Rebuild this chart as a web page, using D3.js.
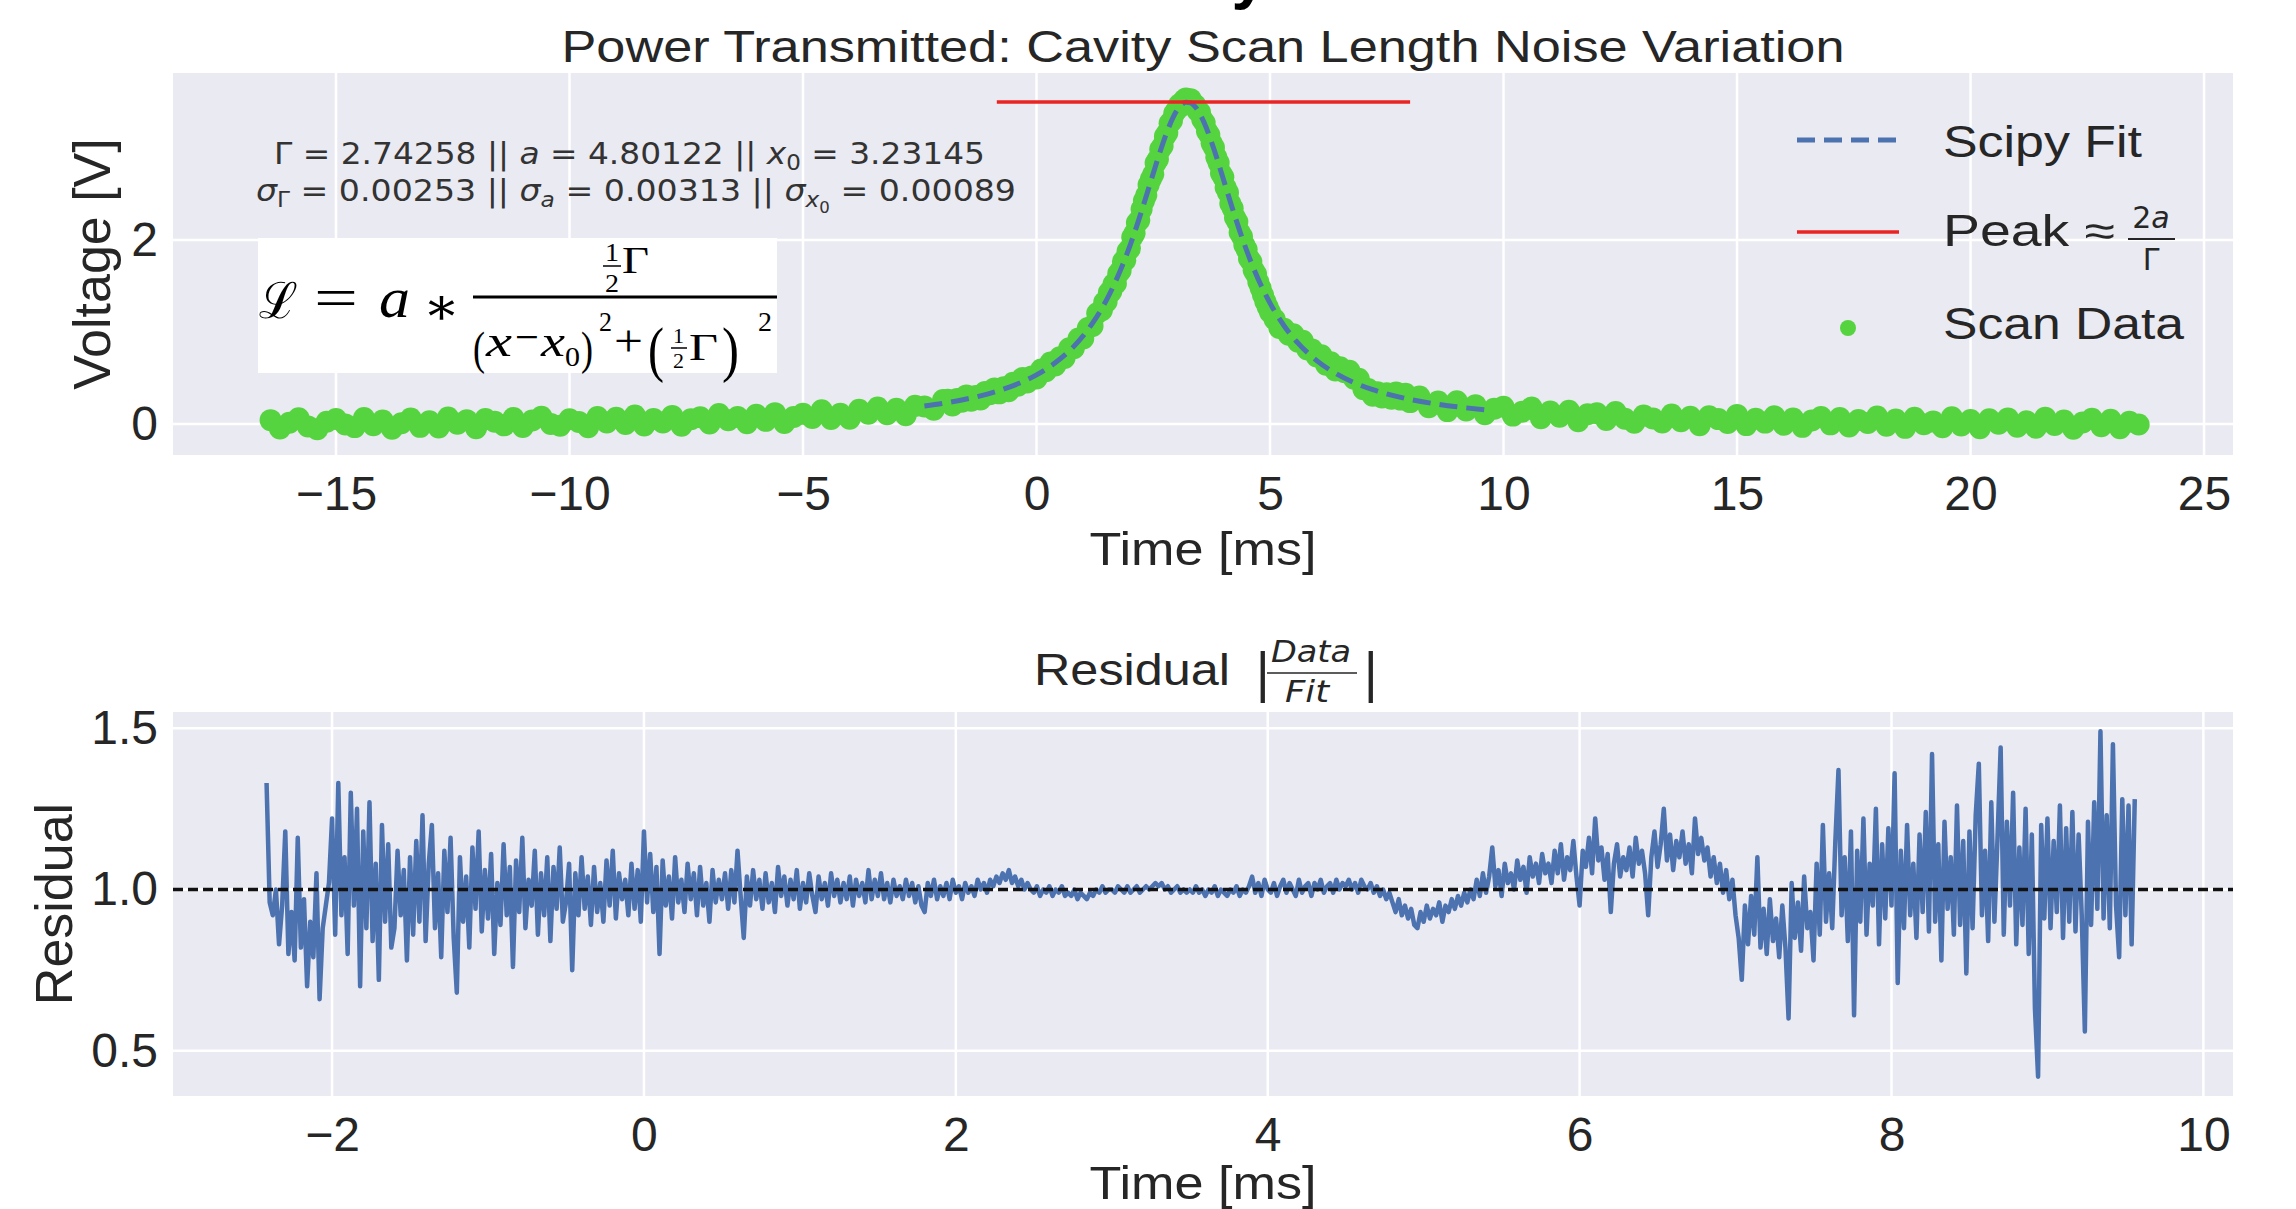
<!DOCTYPE html>
<html>
<head>
<meta charset="utf-8">
<script src="https://cdn.jsdelivr.net/npm/d3@7"></script>
<style>
  body { margin: 0; background: #fff; }
  svg { display: block; }
</style>
</head>
<body>
<script>
// ---- data ----

// scan data (ms, V): tails sampled coarser, the peak finer
const scanTime = [
  -16.4,-16.2,-16.0,-15.8,-15.6,-15.4,-15.2,-15.0,-14.8,-14.6,-14.4,-14.2,-14.0,-13.8,-13.6,-13.4,-13.2,-13.0,-12.8,-12.6,
  -12.4,-12.2,-12.0,-11.8,-11.6,-11.4,-11.2,-11.0,-10.8,-10.6,-10.4,-10.2,-10.0,-9.8,-9.6,-9.4,-9.2,-9.0,-8.8,-8.6,
  -8.4,-8.2,-8.0,-7.8,-7.6,-7.4,-7.2,-7.0,-6.8,-6.6,-6.4,-6.2,-6.0,-5.8,-5.6,-5.4,-5.2,-5.0,-4.8,-4.6,
  -4.4,-4.2,-4.0,-3.8,-3.6,-3.4,-3.2,-3.0,-2.8,-2.6,-2.4,-2.2,-2.0,
  -1.9,-1.8,-1.7,-1.6,-1.5,-1.4,-1.3,-1.2,-1.1,-1.0,-0.9,-0.8,-0.7,-0.6,-0.5,-0.4,-0.3,-0.2,-0.1,0.0,
  0.1,0.2,0.3,0.4,0.5,0.6,0.7,0.8,0.9,1.0,1.1,1.2,1.3,1.4,
  1.45,1.50,1.55,1.60,1.65,1.70,1.75,1.80,1.85,1.90,1.95,2.00,2.05,2.10,2.15,2.20,2.25,2.30,2.35,2.40,
  2.45,2.50,2.55,2.60,2.65,2.70,2.75,2.80,2.85,2.90,2.95,3.00,3.05,3.10,3.15,3.20,3.25,3.30,3.35,3.40,
  3.45,3.50,3.55,3.60,3.65,3.70,3.75,3.80,3.85,3.90,3.95,4.00,4.05,4.10,4.15,4.20,4.25,4.30,4.35,4.40,
  4.45,4.50,4.55,4.60,4.65,4.70,4.75,4.80,4.85,4.90,4.95,5.00,
  5.1,5.2,5.3,5.4,5.5,5.6,5.7,5.8,5.9,6.0,6.1,6.2,6.3,6.4,6.5,6.6,6.7,6.8,6.9,7.0,
  7.1,7.2,7.3,7.4,7.5,7.6,7.7,7.8,7.9,8.0,
  8.2,8.4,8.6,8.8,9.0,9.2,9.4,9.6,9.8,10.0,10.2,10.4,10.6,10.8,11.0,11.2,11.4,11.6,11.8,12.0,
  12.2,12.4,12.6,12.8,13.0,13.2,13.4,13.6,13.8,14.0,14.2,14.4,14.6,14.8,15.0,15.2,15.4,15.6,15.8,16.0,
  16.2,16.4,16.6,16.8,17.0,17.2,17.4,17.6,17.8,18.0,18.2,18.4,18.6,18.8,19.0,19.2,19.4,19.6,19.8,20.0,
  20.2,20.4,20.6,20.8,21.0,21.2,21.4,21.6,21.8,22.0,22.2,22.4,22.6,22.8,23.0,23.2,23.4,23.6
];
const scanVolt = [
  .042,-.048,.013,.063,-.026,-.056,.025,.055,-.005,-.034,.066,-.014,.037,-.052,.008,.059,-.031,.030,-.039,.071,
  .002,.042,-.047,.054,.025,-.015,.066,-.033,.038,.079,.000,-.019,.052,.023,-.036,.075,.017,.068,.000,.091,
  -.017,.054,.016,.088,-.020,.052,.074,.006,.109,.042,.075,.008,.101,.034,.118,.011,.075,.110,.065,.150,
  .055,.111,.057,.154,.111,.179,.107,.166,.096,.197,.190,.154,.260,
  .263,.202,.271,.241,.311,.252,.304,.266,.349,.323,.387,.333,.400,.357,.447,.417,.499,.452,.517,.494,
  .593,.574,.668,.635,.725,.717,.824,.824,.929,.929,1.044,1.066,1.203,1.237,
  1.322,1.329,1.428,1.439,1.522,1.527,1.635,1.665,1.767,1.781,1.878,1.907,2.029,2.072,2.188,2.215,2.334,2.425,2.487,2.599,
  2.662,2.714,2.836,2.877,2.986,3.022,3.126,3.164,3.268,3.297,3.377,3.413,3.470,3.457,3.517,3.538,3.518,3.531,3.484,3.467,
  3.403,3.389,3.310,3.274,3.181,3.144,3.052,3.006,2.898,2.838,2.725,2.683,2.571,2.517,2.396,2.345,2.245,2.198,2.082,2.037,
  1.946,1.896,1.798,1.763,1.670,1.630,1.542,1.476,1.402,1.331,1.271,1.214,
  1.137,1.043,1.035,.970,.976,.894,.905,.810,.810,.734,.746,.645,.671,.582,.617,.562,.579,.493,.492,.379,
  .380,.308,.344,.288,.334,.275,.341,.265,.329,.238,
  .298,.181,.244,.140,.247,.146,.205,.105,.166,.188,.091,.134,.178,.062,.136,.080,.145,.030,.106,.116,
  .043,.130,.057,.014,.091,.059,.016,.104,.031,.079,-.013,.085,.053,.011,.099,-.012,.056,.015,.083,-.008,
  .060,-.031,.038,.077,-.004,.065,-.026,.043,.012,.081,-.020,.049,-.042,.067,-.003,.026,-.035,.074,-.016,.043,
  -.047,.052,.002,.061,-.029,.030,-.040,.069,-.011,.038,-.052,.017,.057,-.024,.046,-.045,.025,-.006
];

// scipy fit curve
const fitTime = [-2.4,-2.0,-1.6,-1.2,-0.8,-0.4,0,0.4,0.8,1.2,1.5,1.8,2.0,2.2,2.4,2.6,2.8,3.0,3.1,3.2,3.3,
  3.4,3.5,3.6,3.8,4.0,4.2,4.4,4.6,4.8,5.0,5.3,5.6,6.0,6.4,6.8,7.2,7.6,8.0,8.5,9.0,9.6];
const fitVolt = [.196,.225,.261,.306,.363,.437,.534,.665,.844,1.096,1.349,1.675,1.937,2.235,2.559,2.887,3.184,3.403,3.467,3.498,3.491,
  3.447,3.369,3.264,2.986,2.663,2.335,2.027,1.753,1.516,1.314,1.068,.879,.689,.552,.450,.373,.314,.267,.222,.187,.155];

// peak marker 2a/Γ
const peakTime = [-0.85, 8.0];
const peakLevel = 3.501;

// residual Data/Fit, sampled every resStep ms from resStart
const resStart = -2.42, resStep = 0.02;
const residual = [
  1.33,.96,.92,1.0,.83,.95,1.18,.80,.93,.78,1.16,.82,.97,.70,.90,.79,1.05,.66,.88,.95,1.02,
  1.22,.86,1.33,.92,1.10,.80,1.30,.95,1.25,.70,1.18,.88,1.27,.84,1.08,.72,1.20,.90,1.14,.82,
  .88,1.12,.92,1.06,.78,1.10,.86,1.15,.90,1.23,.84,1.08,1.20,.88,1.05,.79,1.12,.93,1.16,.85,
  .68,1.10,.90,1.04,.82,1.13,.94,1.18,.87,1.06,.91,1.11,.80,1.02,.89,1.14,.92,1.07,.76,1.09,
  .93,1.16,.88,1.03,.95,1.12,.86,1.05,.92,1.10,.84,1.07,.94,1.13,.90,
  .96,1.08,.75,1.05,.92,1.10,.94,1.04,.89,1.07,.93,1.02,.90,1.09,.95,1.12,.91,1.05,.97,1.03,
  .92,1.08,.94,1.06,.90,1.18,.96,1.11,.93,1.07,.80,1.09,.95,1.04,.91,1.10,.96,1.03,.93,1.08,
  .97,1.05,.92,1.07,.95,1.02,.90,1.06,.96,1.03,
  .97,1.05,.94,1.06,.96,1.12,.98,.85,1.04,.95,1.06,.97,1.03,.94,1.05,.96,1.02,.93,1.07,.98,
  1.04,.95,1.03,.97,1.06,.94,1.02,.96,1.05,.98,.93,1.04,.97,1.02,.95,1.05,.98,1.03,.96,1.02,
  .97,1.04,.95,1.03,.98,1.02,.96,1.06,.97,1.03,
  .98,1.05,.97,1.02,.96,1.03,.98,1.01,.97,1.03,.98,1.02,.96,1.01,.95,.93,1.02,.98,1.03,.97,
  1.01,.98,1.02,.97,1.03,.99,1.01,.97,1.02,.99,1.01,.98,1.03,1.00,1.02,.99,1.03,1.01,1.04,1.02,
  1.05,1.03,1.06,1.02,1.04,1.01,1.03,1.00,1.02,1.00,
  .99,1.01,.98,1.00,.99,1.01,.98,1.00,.99,1.01,.98,.99,.98,1.00,.97,.99,.98,.97,.99,.98,1.00,.99,1.01,.99,1.00,
  1.00,.99,1.01,1.00,.99,1.01,.99,1.00,1.01,.99,1.00,1.01,1.00,1.01,1.02,1.01,1.02,1.00,1.01,.99,1.00,1.01,.99,1.00,.99,
  1.00,.99,1.01,.99,1.00,.98,1.00,.99,1.01,.98,1.00,.99,.98,1.00,.99,1.01,.98,1.00,.99,1.01,
  1.04,.99,1.02,.98,1.03,1.00,.99,1.02,.98,1.01,1.03,.99,1.02,1.00,.98,1.03,.99,1.01,1.02,.98,
  1.02,1.00,1.03,.99,1.01,1.02,.99,1.03,1.00,1.02,
  1.01,1.03,1.00,1.02,.99,1.03,1.01,1.00,1.02,.99,1.01,.98,1.00,.97,.99,
  .96,.93,.97,.92,.95,.91,.94,.89,.88,.93,.90,.95,.91,.94,.92,.96,.90,.95,.93,.97,.94,.98,.95,.99,.96,
  1.00,.97,1.03,.98,1.05,.99,1.04,1.13,1.01,1.06,.98,1.08,1.02,1.05,1.00,1.09,1.03,1.07,.99,1.10,1.04,1.08,1.02,1.11,1.05,
  1.08,1.02,1.12,1.05,1.14,1.03,1.10,1.06,1.15,1.04,.95,1.12,1.07,1.16,1.05,1.22,1.09,1.13,1.03,1.11,.93,1.08,1.14,1.04,1.10,
  1.06,1.13,1.04,1.16,1.08,1.12,1.05,.92,1.10,1.18,1.07,1.14,1.25,1.09,1.17,1.06,1.15,1.10,1.18,1.08,1.14,1.05,1.22,1.11,1.16,
  1.09,1.13,1.04,1.10,1.02,1.08,.99,1.06,.97,1.03,
  .92,.85,.72,.95,.83,.98,.86,1.10,.82,.94,.80,.97,.84,.91,.79,
  .95,.82,.60,1.02,.85,.96,.81,1.04,.88,.93,.78,1.08,.86,1.20,.90,
  1.05,.88,1.15,1.37,.92,1.10,.84,1.18,.61,1.12,.90,1.22,.86,1.08,.95,1.25,.83,1.14,.91,1.19,
  .95,1.36,.71,1.12,.88,1.20,.92,1.08,.85,1.17,.93,1.24,.87,1.42,.90,1.14,.78,1.21,.94,1.10,.86,1.26,.89,1.15,.74,
  1.18,.88,1.23,1.39,.92,1.12,.84,1.27,.90,1.16,1.44,.86,1.21,.95,1.30,.83,1.13,.89,1.25,.80,1.17,.63,.42,1.20,.91,
  1.22,.88,1.15,.93,1.26,.85,1.19,.90,1.24,.87,1.17,.92,.56,1.21,.89,1.27,.94,1.49,.91,1.23,.88,1.45,.95,.79,1.28,.92,1.26,.83,1.28
];
const residualRef = 1.0;

// ticks
const topXTicks = [-15, -10, -5, 0, 5, 10, 15, 20, 25];
const topYTicks = [0, 2];
const botXTicks = [-2, 0, 2, 4, 6, 8, 10];
const botYTicks = [0.5, 1.0, 1.5];

// fit parameter lines: [text, kind]
const paramLine1 = [["Γ = 2.74258  ||  ", ""], ["a", "it"], [" = 4.80122 ||  ", ""], ["x", "it"], ["0", "sub"], [" = 3.23145", ""]];
const paramLine2 = [["σ", "it"], ["Γ", "sub"], [" = 0.00253  ||  ", ""], ["σ", "it"], ["a", "subit"], [" = 0.00313 ||  ", ""],
                    ["σ", "it"], ["x", "subit"], ["0", "subsub"], [" = 0.00089", ""]];

// ---- layout ----
const W = 2296, H = 1209;
const topBox = {left: 173, right: 2233, top: 73, bottom: 455};
const botBox = {left: 173, right: 2233, top: 712, bottom: 1096};
const sans = "'Liberation Sans', Arial, sans-serif";
const ink = "#262626";
const green = "#55d43f", blue = "#4c72b0", red = "#ea2323";

const svg = d3.select("body").append("svg").attr("width", W).attr("height", H);

const x1 = d3.scaleLinear().domain([-18.49, 25.62]).range([topBox.left, topBox.right]);
const y1 = d3.scaleLinear().domain([-0.337, 3.815]).range([topBox.bottom, topBox.top]);
const x2 = d3.scaleLinear().domain([-3.02, 10.19]).range([botBox.left, botBox.right]);
const y2 = d3.scaleLinear().domain([0.36, 1.55]).range([botBox.bottom, botBox.top]);

function frame(box, x, y, xt, yt, yFmt) {
  svg.append("rect")
    .attr("x", box.left).attr("y", box.top)
    .attr("width", box.right - box.left).attr("height", box.bottom - box.top)
    .attr("fill", "#eaeaf2");

  let grid = svg.append("g").attr("stroke", "#fff").attr("stroke-width", 2.5);
  grid.selectAll(".gx").data(xt).join("line")
    .attr("x1", d => x(d)).attr("x2", d => x(d))
    .attr("y1", box.top).attr("y2", box.bottom);
  grid.selectAll(".gy").data(yt).join("line")
    .attr("y1", d => y(d)).attr("y2", d => y(d))
    .attr("x1", box.left).attr("x2", box.right);

  svg.append("g")
    .attr("transform", `translate(0,${box.bottom})`)
    .call(d3.axisBottom(x).tickValues(xt).tickSize(0).tickPadding(21))
    .call(g => g.select(".domain").remove())
    .attr("font-size", 48).attr("font-family", sans)
    .selectAll("text").attr("fill", ink);

  svg.append("g")
    .attr("transform", `translate(${box.left},0)`)
    .call(d3.axisLeft(y).tickValues(yt).tickSize(0).tickPadding(15).tickFormat(yFmt))
    .call(g => g.select(".domain").remove())
    .attr("font-size", 48).attr("font-family", sans)
    .selectAll("text").attr("fill", ink);
}

frame(topBox, x1, y1, topXTicks, topYTicks, d3.format("d"));
frame(botBox, x2, y2, botXTicks, botYTicks, d3.format(".1f"));

// ---- top panel marks ----
svg.append("g")
  .selectAll("circle")
  .data(scanTime)
  .join("circle")
    .attr("cx", d => x1(d))
    .attr("cy", (d, i) => y1(scanVolt[i]))
    .attr("r", 11)
    .attr("fill", green);

const fitLine = d3.line()
  .x(d => x1(d))
  .y((d, i) => y1(fitVolt[i]))
  .curve(d3.curveMonotoneX);

svg.append("path")
  .attr("d", fitLine(fitTime))
  .attr("fill", "none")
  .attr("stroke", blue)
  .attr("stroke-width", 5)
  .attr("stroke-dasharray", "18,9");

svg.append("line")
  .attr("x1", x1(peakTime[0])).attr("x2", x1(peakTime[1]))
  .attr("y1", y1(peakLevel)).attr("y2", y1(peakLevel))
  .attr("stroke", red).attr("stroke-width", 3.5);

// ---- bottom panel marks ----
const resLine = d3.line()
  .x((d, i) => x2(resStart + i * resStep))
  .y(d => y2(d));

svg.append("path")
  .attr("d", resLine(residual))
  .attr("fill", "none")
  .attr("stroke", blue)
  .attr("stroke-width", 4.5)
  .attr("stroke-linejoin", "round");

svg.append("line")
  .attr("x1", botBox.left).attr("x2", botBox.right)
  .attr("y1", y2(residualRef)).attr("y2", y2(residualRef))
  .attr("stroke", "#111").attr("stroke-width", 3.5)
  .attr("stroke-dasharray", "10,5");

// ---- text ----
function label(txt, x, y, size, opts = {}) {
  let t = svg.append("text")
    .attr("x", x).attr("y", y)
    .attr("font-family", opts.family || sans)
    .attr("font-size", size)
    .attr("fill", opts.fill || ink)
    .attr("text-anchor", opts.anchor || "start")
    .text(txt);
  if (opts.len) t.attr("textLength", opts.len).attr("lengthAdjust", "spacingAndGlyphs");
  if (opts.italic) t.attr("font-style", "italic");
  if (opts.bold) t.attr("font-weight", "bold");
  return t;
}

// cut-off figure title at the very top
label("Cavity", 1267, -3, 64, {anchor: "end", bold: true, fill: "#000"});

label("Power Transmitted: Cavity Scan Length Noise Variation", 1203, 62, 44, {anchor: "middle", len: 1283});
label("Time [ms]", 1203, 565, 46, {anchor: "middle", len: 227});
label("Time [ms]", 1203, 1199, 46, {anchor: "middle", len: 227});

svg.append("text")
  .attr("transform", "translate(110,264) rotate(-90)")
  .attr("text-anchor", "middle").attr("font-family", sans).attr("font-size", 52).attr("fill", ink)
  .text("Voltage [V]");
svg.append("text")
  .attr("transform", "translate(72,904) rotate(-90)")
  .attr("text-anchor", "middle").attr("font-family", sans).attr("font-size", 52).attr("fill", ink)
  .text("Residual");

// residual title with |Data/Fit|
const dv = "'DejaVu Sans', sans-serif";
label("Residual", 1034, 685, 44, {len: 196});
label("|", 1254, 690, 52, {family: dv});
label("Data", 1311, 662, 31, {anchor: "middle", italic: true, len: 80, family: dv});
svg.append("line").attr("x1", 1267).attr("x2", 1357).attr("y1", 673).attr("y2", 673).attr("stroke", ink).attr("stroke-width", 1.5);
label("Fit", 1307, 702, 31, {anchor: "middle", italic: true, len: 44, family: dv});
label("|", 1362, 690, 52, {family: dv});

// fit parameters
function richText(parts, x, y, size, len) {
  let t = svg.append("text")
    .attr("x", x).attr("y", y)
    .attr("font-family", dv)
    .attr("font-size", size).attr("fill", "#333")
    .attr("textLength", len).attr("lengthAdjust", "spacingAndGlyphs");
  let shift = 0;
  parts.forEach(([s, kind]) => {
    let target = kind.startsWith("sub") ? (kind === "subsub" ? 12 : 6) : 0;
    let sp = t.append("tspan").attr("dy", target - shift).text(s);
    shift = target;
    if (kind.includes("it")) sp.attr("font-style", "italic");
    if (kind.startsWith("sub")) sp.attr("font-size", kind === "subsub" ? "0.5em" : "0.7em");
  });
}
richText(paramLine1, 274, 164, 30, 711);
richText(paramLine2, 256, 201, 30, 760);

// Lorentzian formula box: [text, x, baseline, size, italic, width]
svg.append("rect").attr("x", 258).attr("y", 238).attr("width", 519).attr("height", 135).attr("fill", "#fff");
const serif = "'Liberation Serif', 'DejaVu Serif', serif";
const formulaParts = [
  ["ℒ", 259, 318, 50, false, 39], ["=", 314, 317, 56, false, 44], ["a", 379, 317, 58, true, 31], ["∗", 423, 324, 52, false, 37],
  ["1", 605, 261, 26, false, 14], ["2", 605, 292, 26, false, 14], ["Γ", 622, 273, 38, false, 27],
  ["(", 473, 364, 46, false, 12], ["x", 486, 356, 44, true, 26], ["−", 515, 352, 44, false, 24], ["x", 541, 356, 44, true, 24],
  ["0", 565, 366, 28, false, 15], [")", 581, 364, 46, false, 12], ["2", 599, 331, 28, false, 13], ["+", 614, 356, 44, false, 29],
  ["(", 648, 370, 62, false, 16], ["1", 673, 343, 20, false, 11], ["2", 673, 368, 20, false, 11], ["Γ", 689, 360, 38, false, 29],
  [")", 722, 370, 62, false, 17], ["2", 758, 331, 28, false, 14]
];
formulaParts.forEach(([s, x, y, size, it, w]) =>
  label(s, x, y, size, {family: serif, italic: it, fill: "#000", len: w}));
[[473, 777, 297, 3], [603, 621, 266, 1.5], [671, 687, 348, 1.5]].forEach(([a, b, y, w]) =>
  svg.append("line").attr("x1", a).attr("x2", b).attr("y1", y).attr("y2", y).attr("stroke", "#000").attr("stroke-width", w));

// ---- legend ----
svg.append("line").attr("x1", 1797).attr("x2", 1899).attr("y1", 140).attr("y2", 140)
  .attr("stroke", blue).attr("stroke-width", 5).attr("stroke-dasharray", "18,9");
label("Scipy Fit", 1943, 157, 44, {len: 199});

svg.append("line").attr("x1", 1797).attr("x2", 1899).attr("y1", 232).attr("y2", 232)
  .attr("stroke", red).attr("stroke-width", 3.5);
label("Peak ≈", 1943, 246, 44, {len: 172});
let frac = label("2", 2151, 228, 30, {anchor: "middle", family: dv});
frac.append("tspan").attr("font-style", "italic").text("a");
svg.append("line").attr("x1", 2128).attr("x2", 2175).attr("y1", 239).attr("y2", 239).attr("stroke", ink).attr("stroke-width", 2);
label("Γ", 2151, 270, 30, {anchor: "middle", family: dv});

svg.append("circle").attr("cx", 1848).attr("cy", 328).attr("r", 8).attr("fill", green);
label("Scan Data", 1943, 339, 44, {len: 241});
</script>
</body>
</html>
